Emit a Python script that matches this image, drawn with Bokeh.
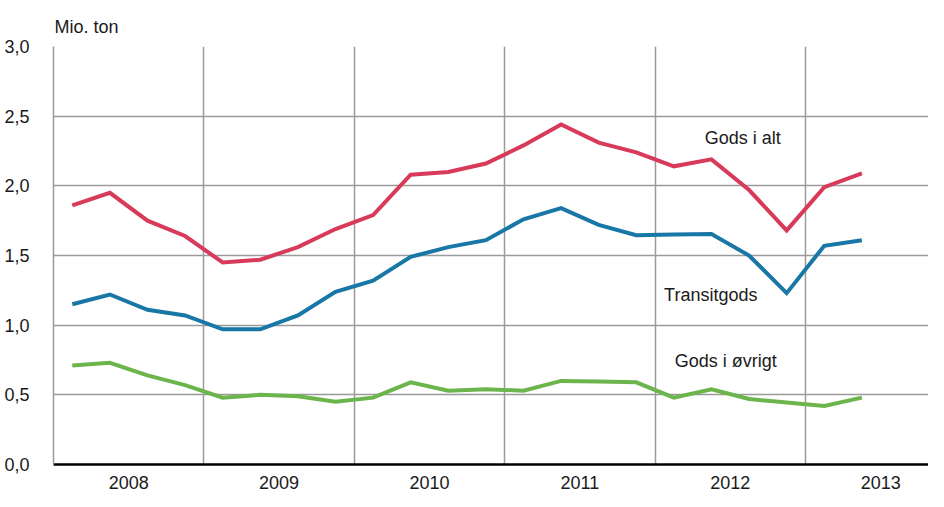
from bokeh.plotting import figure
from bokeh.models import FixedTicker, Range1d
from bokeh.core.properties import value
from bokeh.embed import file_html
from bokeh.resources import INLINE

FONT = "Liberation Sans"

years = [2008, 2009, 2010, 2011, 2012, 2013]
quarters_per_year = 4
# quarterly values 2008Q1 .. 2013Q2 (mio. ton)
gods_i_alt = [1.86, 1.95, 1.75, 1.64, 1.45, 1.47, 1.56, 1.69,
              1.79, 2.08, 2.10, 2.16, 2.29, 2.44, 2.31, 2.24,
              2.14, 2.19, 1.97, 1.68, 1.99, 2.09]
transitgods = [1.15, 1.22, 1.11, 1.07, 0.97, 0.97, 1.07, 1.24,
               1.32, 1.49, 1.56, 1.61, 1.76, 1.84, 1.72, 1.645,
               1.65, 1.655, 1.50, 1.23, 1.57, 1.61]
gods_i_ovrigt = [0.71, 0.73, 0.64, 0.57, 0.48, 0.50, 0.49, 0.45,
                 0.48, 0.59, 0.53, 0.54, 0.53, 0.60, 0.595, 0.59,
                 0.48, 0.54, 0.47, 0.445, 0.42, 0.48]
y_ticks = [0.0, 0.5, 1.0, 1.5, 2.0, 2.5, 3.0]
y_tick_labels = ["0,0", "0,5", "1,0", "1,5", "2,0", "2,5", "3,0"]
series_names = ["Gods i alt", "Transitgods", "Gods i øvrigt"]
series_colors = ["#D83A5A", "#1877A6", "#6BB54C"]
label_x = [2012.33, 2012.06, 2012.13]
label_y = [2.34, 1.22, 0.745]

xs = [years[0] + (i + 0.5) / quarters_per_year for i in range(len(gods_i_alt))]

p = figure(width=928, height=491, output_backend="svg", toolbar_location=None,
           x_range=Range1d(2008, 2013.818), y_range=Range1d(0, 3.0),
           min_border_left=53, min_border_right=0, min_border_top=46,
           min_border_bottom=27)
p.outline_line_color = None
p.background_fill_color = "white"

p.title.text = "Mio. ton"
p.title.text_font = FONT
p.title.text_font_size = "18px"
p.title.text_font_style = "normal"
p.title.text_color = "#1a1a1a"
p.title.align = "left"
p.title.offset = 1
p.title.standoff = 19

# grids
p.ygrid.ticker = FixedTicker(ticks=y_ticks)
p.ygrid.grid_line_color = "#9a9a9a"
p.ygrid.grid_line_width = 1.5
p.xgrid.ticker = FixedTicker(ticks=years[1:])
p.xgrid.grid_line_color = "#9a9a9a"
p.xgrid.grid_line_width = 1.5

# y axis
p.yaxis.ticker = FixedTicker(ticks=y_ticks)
p.yaxis.major_label_overrides = {t: l for t, l in zip(y_ticks, y_tick_labels)}
p.yaxis.major_tick_line_color = None
p.yaxis.minor_tick_line_color = None
p.yaxis.axis_line_color = "#9a9a9a"
p.yaxis.axis_line_width = 1.5
p.yaxis.major_label_text_font = FONT
p.yaxis.major_label_text_font_size = "18px"
p.yaxis.major_label_text_color = "#1a1a1a"
p.yaxis.major_label_standoff = 18

# x axis
centers = [y + 0.5 for y in years]
p.xaxis.ticker = FixedTicker(ticks=centers)
p.xaxis.major_label_overrides = {c: str(y) for c, y in zip(centers, years)}
p.xaxis.major_tick_line_color = None
p.xaxis.minor_tick_line_color = None
p.xaxis.axis_line_color = "black"
p.xaxis.axis_line_width = 2.5
p.xaxis.major_label_text_font = FONT
p.xaxis.major_label_text_font_size = "18px"
p.xaxis.major_label_text_color = "#1a1a1a"
p.xaxis.major_label_standoff = 5

for vals, col in zip([gods_i_alt, transitgods, gods_i_ovrigt], series_colors):
    p.line(xs, vals, line_color=col, line_width=4, line_join="miter")

p.text(x=label_x, y=label_y, text=series_names, text_font=value(FONT),
       text_font_size="18px", text_color="#1a1a1a", text_align="left",
       text_baseline="middle")

open("out.html", "w").write(file_html(p, INLINE))
